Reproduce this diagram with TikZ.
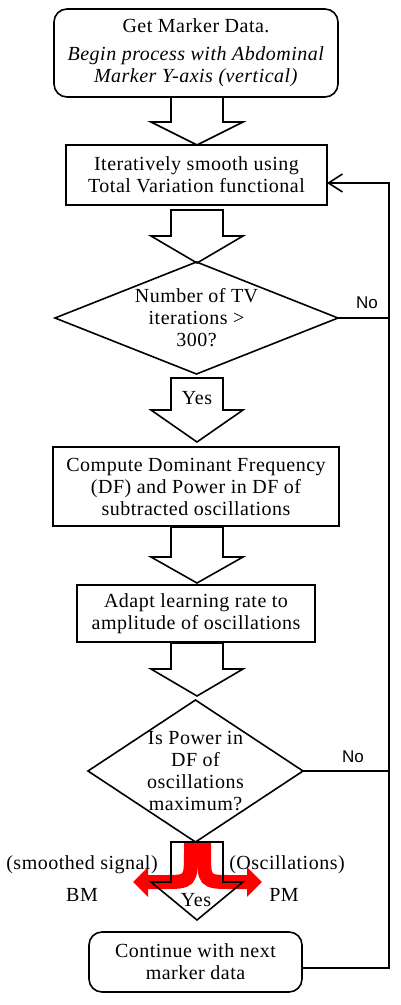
\documentclass[tikz,border=0pt]{standalone}
\usepackage{fontspec}
\setmainfont{Liberation Serif}[LetterSpace=2.5]
\newfontfamily\labelfont{Liberation Sans}
\usetikzlibrary{shapes.geometric,arrows.meta}

\tikzset{
  stepbox/.style={draw, line width=1.6pt, inner sep=0pt, outer sep=0pt, align=center,
    font=\fontsize{20}{22}\selectfont},
  roundbox/.style={stepbox, rounded corners=13pt},
  decision/.style={diamond, draw, line width=1.6pt, inner sep=0pt, outer sep=0pt},
  flowtext/.style={align=center, inner sep=0pt, font=\fontsize{20}{22}\selectfont},
  notext/.style={inner sep=0pt, font=\labelfont\fontsize{17}{19}\selectfont},
  loopline/.style={line width=1.6pt},
  blockarrow/.style={line width=1.6pt, line join=miter},
  splitarrow/.style={red, line width=14pt, -{Triangle[length=15pt,width=29pt]}},
}

\begin{document}
\begin{tikzpicture}[x=1pt, y=-1pt]

  % Bounding box of the scheme
  \useasboundingbox (0,0) rectangle (400,1005) ;

  %%%%%%%%%%%%%%%%%%%%%%%%%%%%%%%%% Steps of the process %%%%%%%%%%%%%%%%%%%%%%%%%%%%%%%%%%%%
  \draw (196,53) node[roundbox, minimum width=284pt, minimum height=88pt] (get)
    {Get Marker Data.\\[6pt] \textit{Begin process with Abdominal}\\ \textit{Marker Y-axis (vertical)}} ;
  \draw (196.5,175) node[stepbox, minimum width=261pt, minimum height=60pt] (smooth)
    {Iteratively smooth using\\ Total Variation functional} ;
  \draw (196,486.5) node[stepbox, minimum width=286pt, minimum height=79pt] (freq)
    {Compute Dominant Frequency\\ (DF) and Power in DF of\\ subtracted oscillations} ;
  \draw (196,613.5) node[stepbox, minimum width=238pt, minimum height=57pt] (adapt)
    {Adapt learning rate to\\ amplitude of oscillations} ;
  \draw (195.5,962) node[roundbox, minimum width=213pt, minimum height=60pt] (next)
    {Continue with next\\ marker data} ;

  % Decisions
  \draw (196.5,318) node[decision, minimum width=283pt, minimum height=112pt] (tv) {} ;
  \draw (tv) node[flowtext] {Number of TV\\ iterations >\\ 300?} ;
  \draw (195.5,771) node[decision, minimum width=215pt, minimum height=142pt] (power) {} ;
  \draw (power) node[flowtext] {Is Power in\\ DF of\\ oscillations\\ maximum?} ;

  %%%%%%%%%%%%%%%%%%%%%%%%%%%%%%%%% Split of the signal %%%%%%%%%%%%%%%%%%%%%%%%%%%%%%%%%%%%
  \draw[splitarrow] (191,842) -- (191,850) .. controls (191,882) .. (163,882) -- (133,882) ;
  \draw[splitarrow] (204,842) -- (204,850) .. controls (204,882) .. (232,882) -- (262,882) ;

  %%%%%%%%%%%%%%%%%%%%%%%%%%%%%%%%% Block arrows %%%%%%%%%%%%%%%%%%%%%%%%%%%%%%%%%%%%%%%%%%%
  \foreach \ytop/\yhead/\ytip in {97/122/145, 210/236/263, 378/410/442, 527/557/583, 643/669/696, 842/882/920} {
    \draw[blockarrow] (171,\ytop) -- (171,\yhead) -- (151,\yhead) -- (197,\ytip)
      -- (243,\yhead) -- (223,\yhead) -- (223,\ytop) -- cycle ;
  }

  \draw (197,398) node[flowtext] (yes1) {Yes} ;
  \draw (196,900) node[flowtext] (yes2) {Yes} ;
  \draw (82,865) node[flowtext] (smoothed) {(smoothed signal)} ;
  \draw (82,895) node[flowtext] (bm) {BM} ;
  \draw (287,865) node[flowtext] (osc) {(Oscillations)} ;
  \draw (284,895) node[flowtext] (pm) {PM} ;

  %%%%%%%%%%%%%%%%%%%%%%%%%%%%%%%%% Loop back %%%%%%%%%%%%%%%%%%%%%%%%%%%%%%%%%%%%%%%%%%%%%%
  \coordinate (loop) at (389,183) ;
  \draw[loopline] (tv.east) -- (tv.east -| loop) ;
  \draw[loopline] (power.east) -- (power.east -| loop) ;
  \draw[loopline, -{Straight Barb[length=14pt,width=18pt]}]
    ([yshift=-6pt]next.east) -| (loop) -- (loop -| smooth.east) ;

  \draw (367,303) node[notext] (no1) {No} ;
  \draw (353,757) node[notext] (no2) {No} ;

\end{tikzpicture}
\end{document}
